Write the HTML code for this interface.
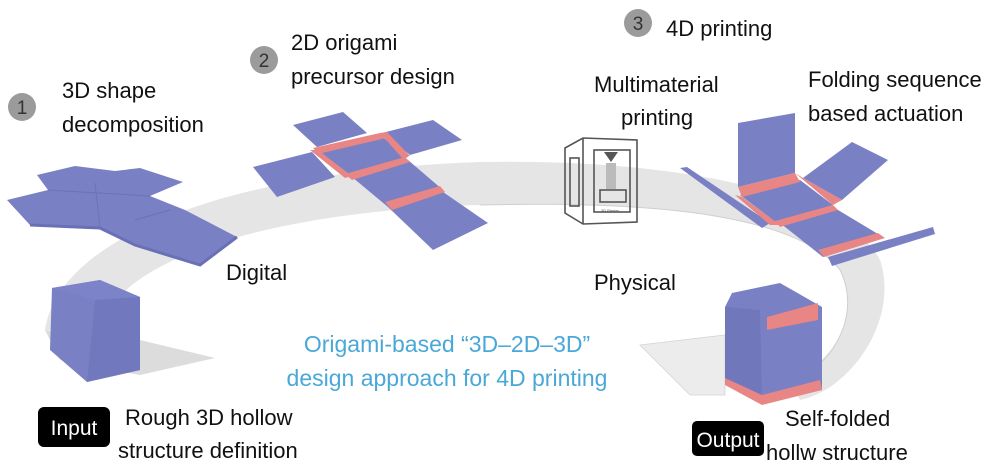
<!DOCTYPE html>
<html><head><meta charset="utf-8"><style>
body{margin:0;background:#fff}
svg{display:block;font-family:"Liberation Sans",sans-serif}
</style></head><body>
<svg width="1005" height="471" viewBox="0 0 1005 471">
<!-- gray band -->
<path d="M45,330 C60,230 250,170 480,162 C700,158 850,200 880,260 C900,320 850,390 800,400 L790,380 C840,360 860,310 840,270 C800,220 680,200 480,205 C300,210 120,250 100,330 Z" fill="#e5e5e5"/>
<path d="M480,205 C680,200 800,220 840,270 C860,310 840,360 790,385" fill="none" stroke="#cfcfcf" stroke-width="1"/>
<path d="M45,330 L140,340 L215,358 L140,375 L60,360 Z" fill="#dcdcdc"/>
<path d="M640,345 L725,335 L725,395 L690,395 Z" fill="#ececec" stroke="#d4d4d4" stroke-width="0.8"/>
<!-- shape 1 cross -->
<polygon points="37,175 75,166 115,171 140,168 183,182 150,196 185,210 237,237 200,265 135,245 100,228 30,225 7,200 48,190" fill="#7a80c4"/>
<polyline points="30,225 100,228 135,245 200,265 237,237" fill="none" stroke="#6a70b6" stroke-width="3"/>
<g stroke="#6c72b8" stroke-width="1" fill="none"><line x1="48" y1="190" x2="150" y2="196"/><line x1="95" y1="183" x2="100" y2="228"/><line x1="135" y1="220" x2="170" y2="210"/></g>
<!-- shape 2 -->
<g fill="#7a80c4">
<polygon points="315,150 380,135 408,157 348,175"/>
<polygon points="253,167 312,152 335,177 277,197"/>
<polygon points="293,125 343,112 367,133 317,147"/>
<polygon points="382,133 433,120 462,140 410,155"/>
<polygon points="352,177 408,160 443,190 388,207"/>
<polygon points="388,207 443,192 488,223 433,250"/>
</g>
<g fill="#e88585">
<polygon points="313,148 380,133 386,138 318,154"/>
<polygon points="310,150 318,150 352,176 345,178"/>
<polygon points="380,133 387,132 410,156 402,158"/>
<polygon points="345,174 405,157 410,162 352,180"/>
<polygon points="385,202 440,186 445,192 392,210"/>
</g>
<!-- shape 3 -->
<g fill="#7a80c4">
<polygon points="738,123 795,113 795,173 738,187"/>
<polygon points="740,195 800,180 833,205 777,223"/>
<polygon points="803,178 852,142 888,160 842,200"/>
<polygon points="680,168 687,167 770,223 762,228"/>
<polygon points="780,223 833,207 883,237 823,257"/>
<polygon points="828,257 933,227 935,234 832,266"/>
</g>
<g fill="#e88585">
<polygon points="738,187 795,173 800,182 742,197"/>
<polygon points="795,173 803,178 842,200 833,205"/>
<polygon points="735,195 742,197 780,225 770,225"/>
<polygon points="775,221 833,205 838,210 780,227"/>
<polygon points="818,250 878,233 885,238 824,257"/>
</g>
<!-- output cube -->
<polygon points="725,307 732,293 780,283 822,307 822,390 762,403 725,383" fill="#7a80c4"/>
<polygon points="725,307 760,310 762,403 725,383" fill="#7077bb"/>
<polygon points="767,317 818,303 818,320 767,330" fill="#e88585"/>
<polygon points="725,378 762,395 820,380 822,390 762,405 725,385" fill="#e88585"/>
<!-- input cube -->
<polygon points="52,288 100,280 140,297 140,370 87,382 50,350" fill="#7a80c4"/>
<polygon points="52,288 95,300 140,297 100,280" fill="#7d83c8"/>
<polygon points="95,300 140,297 140,370 87,382" fill="#7278bd"/>
<!-- printer -->
<g fill="none" stroke="#555" stroke-width="1.6">
<polygon points="565,148 583,138 637,140 637,222 583,224 565,213"/>
<line x1="583" y1="138" x2="583" y2="224"/>
<rect x="594" y="150" width="36" height="62"/>
<rect x="570" y="158" width="9" height="48"/>
<rect x="600" y="190" width="26" height="12"/>
</g>
<polygon points="604,152 618,152 611,162" fill="#555"/>
<rect x="606" y="163" width="10" height="26" fill="#bbb"/>
<text x="601" y="212" font-size="4" fill="#555">3D Printer</text>
<!-- circles -->
<g fill="#9b9b9b"><circle cx="22" cy="107" r="14"/><circle cx="264" cy="60" r="14"/><circle cx="638" cy="23" r="14"/></g>
<g font-size="19" fill="#333" text-anchor="middle"><text x="22" y="114">1</text><text x="264" y="67">2</text><text x="638" y="30">3</text></g>
<g font-size="22" fill="#111">
<text x="62" y="98">3D shape</text><text x="62" y="132">decomposition</text>
<text x="291" y="50">2D origami</text><text x="291" y="84">precursor design</text>
<text x="666" y="36">4D printing</text>
<text x="594" y="92">Multimaterial</text><text x="621" y="125">printing</text>
<text x="808" y="87">Folding sequence</text><text x="808" y="121">based actuation</text>
<text x="226" y="280">Digital</text><text x="594" y="290">Physical</text>
<text x="125" y="425">Rough 3D hollow</text><text x="118" y="458">structure definition</text>
<text x="785" y="426">Self-folded</text><text x="766" y="460">hollw structure</text>
</g>
<g font-size="23" fill="#4aa8d8" text-anchor="middle"><text x="447" y="352">Origami-based “3D–2D–3D”</text><text x="447" y="386">design approach for 4D printing</text></g>
<rect x="38" y="407" width="72" height="40" rx="6" fill="#000"/>
<text x="74" y="435" font-size="21" fill="#fff" text-anchor="middle">Input</text>
<rect x="692" y="421" width="72" height="35" rx="5" fill="#000"/>
<text x="728" y="447" font-size="21" fill="#fff" text-anchor="middle">Output</text>
</svg>
</body></html>
